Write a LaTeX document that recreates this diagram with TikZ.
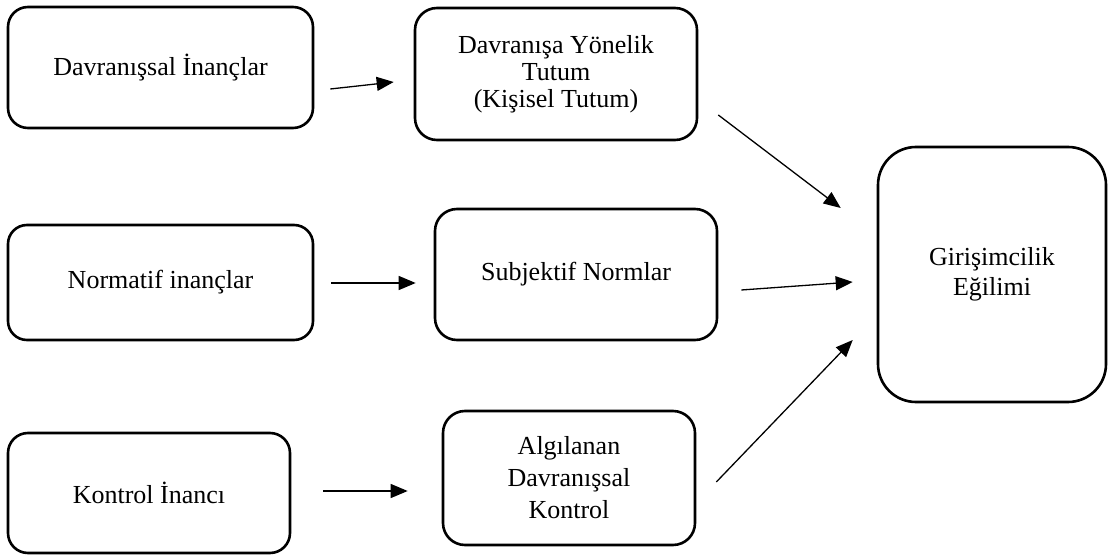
\documentclass[tikz,border=0pt]{standalone}
\usepackage{fontspec}
\setmainfont{Liberation Serif}
\usetikzlibrary{arrows.meta,calc}
\begin{document}
\begin{tikzpicture}[x=1pt,y=-1pt,
  box/.style={draw, line width=2.6pt, align=center, inner sep=0pt, font=\fontsize{26}{28}\selectfont},
  arr/.style={line width=1.3pt, -{Triangle[length=17pt,width=14pt]}}]
\useasboundingbox (0,0) rectangle (1108,556);
\node[box, minimum width=305pt, minimum height=121pt, rounded corners=20pt] (b1) at (160.5,67.5) {Davranışsal İnançlar};
\node[box, minimum width=282pt, minimum height=132pt, rounded corners=22pt, font=\fontsize{26}{27}\selectfont] (b2) at (556,74) {\raisebox{-3pt}{\parbox{270pt}{\centering Davranışa Yönelik\\Tutum\\(Kişisel Tutum)}}};
\node[box, minimum width=305pt, minimum height=115pt, rounded corners=19pt] (b3) at (160.5,282.5) {Normatif inançlar};
\node[box, minimum width=282pt, minimum height=131pt, rounded corners=22pt] (b4) at (576,274.5) {Subjektif Normlar};
\node[box, minimum width=282pt, minimum height=120pt, rounded corners=20pt] (b5) at (149,493) {Kontrol İnancı};
\node[box, minimum width=252pt, minimum height=134pt, rounded corners=22pt, font=\fontsize{26}{32}\selectfont] (b6) at (569,478) {Algılanan\\Davranışsal\\Kontrol};
\node[box, minimum width=228pt, minimum height=255pt, rounded corners=38pt, font=\fontsize{26}{30}\selectfont] (b7) at (992,274.5) {Girişimcilik\\Eğilimi};
\draw[arr] ($(b1.east)+(16,21.5)$) -- ($(b2.west)+(-20,8)$);
\draw[arr] ($(b3.east)+(17,0.5)$) -- ($(b4.west)+(-18,8.5)$);
\draw[arr] ($(b5.east)+(32,-2)$) -- ($(b6.west)+(-34,13)$);
\draw[arr] ($(b2.east)+(20,41)$) -- ($(b7.west)+(-36,-66.5)$);
\draw[arr] ($(b4.east)+(23,15.5)$) -- ($(b7.west)+(-24,7.5)$);
\draw[arr] ($(b6.east)+(20,4)$) -- ($(b7.west)+(-24,65.5)$);
\end{tikzpicture}
\end{document}
